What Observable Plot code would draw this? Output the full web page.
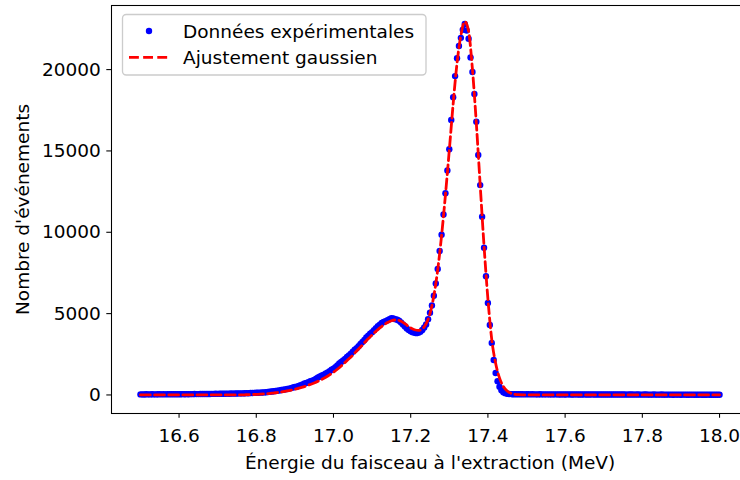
<!DOCTYPE html>
<html><head><meta charset="utf-8">
<script src="https://cdn.jsdelivr.net/npm/d3@7"></script>
<script src="https://cdn.jsdelivr.net/npm/@observablehq/plot@0.6"></script>
<style>
html,body{margin:0;padding:0;background:#fff;overflow:hidden;}
#chart{position:relative;width:740px;height:480px;overflow:hidden;}
</style></head><body><div id="chart"></div>
<script>
// Experimental data: energy grid start/step (MeV) and counts
const dataStart = 16.5, dataStep = 0.005;
const counts = [
  35, 38, 32, 40, 36, 33, 41, 37, 35, 39,
  42, 36, 40, 38, 44, 41, 39, 45, 43, 40,
  47, 44, 48, 46, 50, 47, 52, 49, 55, 53,
  51, 58, 56, 60, 57, 63, 61, 66, 64, 70,
  68,
  72, 70, 76, 74, 80, 78, 85, 83, 90, 88,
  95, 99, 97, 105, 110, 108, 118, 122, 125, 132,
  138, 145, 150, 158, 170, 180, 195, 210, 225, 240,
  262, 280, 300, 318, 345, 365, 392, 420, 455, 488,
  510, 560, 600, 650, 700, 740, 790, 840, 880, 930,
  1000, 1080, 1130, 1200, 1250, 1320, 1380, 1460, 1550, 1620,
  1700, 1820, 1930, 2030, 2120, 2220, 2330, 2430, 2540, 2660,
  2780, 2870, 3000, 3130, 3260, 3380, 3540, 3640, 3760, 3860,
  3980, 4110, 4220, 4320, 4420, 4480, 4540, 4590, 4650, 4720,
  4700, 4660, 4620, 4560, 4460, 4330, 4210, 4080, 3990, 3920,
  3860, 3820, 3800, 3830, 3880, 3990, 4150, 4330, 4660, 5050,
  5500, 6100, 6850, 7750, 8850, 9850, 11100, 12400, 13800, 15100,
  16900, 18300, 19600, 20700, 21450, 21950, 22450, 22800, 22400, 21900,
  20750, 19850, 18500, 16800, 14750, 12900, 10950, 9050, 7300, 5650,
  4300, 3200, 2150, 1350, 850, 500, 290, 170, 110, 75,
  55,
  48, 44, 46, 41, 43, 40, 42, 38, 41, 39,
  37, 40, 36, 38, 35, 39, 37, 34, 36, 38,
  35, 33, 36, 34, 37, 32, 35, 33, 31, 34,
  36, 32, 30, 33, 35, 31, 29, 32, 34, 30,
  28, 31, 33, 29, 27, 30, 32, 28, 26, 29,
  31, 27, 25, 28, 30, 26, 24, 27, 29, 25,
  23, 26, 28, 24, 22, 25, 27, 23, 21, 24,
  26, 22, 20, 23, 25, 21, 19, 22, 24, 20,
  18, 21, 23, 19, 17, 20, 22, 18, 16, 19,
  21, 17, 15, 18, 20, 16, 14, 17, 19, 15,
  13, 16, 18, 14, 12, 15, 17, 13, 12
];

// Gaussian fit curve: energy grid start/step (MeV) and fitted counts
const fitStart = 16.5, fitStep = 0.01;
const fitValues = [
  0, 0, 0, 0, 0, 0, 0, 0, 0, 0,
  0, 0, 0, 0, 0, 0, 0, 0, 0, 0,
  0, 0, 0,
  1, 2, 4, 7, 11, 16, 24, 35, 48, 65,
  85, 110, 135, 165, 200, 245, 295, 350, 415, 480,
  560, 645, 740, 845, 960, 1090, 1235, 1400, 1580, 1780,
  2000, 2220, 2450, 2700, 2950, 3200, 3450, 3690, 3910, 4120,
  4300, 4450, 4560, 4610, 4580, 4460, 4290, 4120, 4010, 3970,
  4060, 4380, 5000, 6100, 7700, 9800, 12300, 15050, 17900, 20400,
  22100, 22950, 22350, 20000, 16700, 12900, 9150, 5900, 3400, 1950,
  1050, 520, 240, 100, 40, 15, 5, 1,
  0, 0, 0, 0, 0, 0, 0, 0, 0, 0,
  0, 0, 0, 0, 0, 0, 0, 0, 0, 0,
  0, 0, 0, 0, 0, 0, 0, 0, 0, 0,
  0, 0, 0, 0, 0, 0, 0, 0, 0, 0,
  0, 0, 0, 0, 0, 0, 0, 0, 0, 0
];

const xTicks = [16.6, 16.8, 17.0, 17.2, 17.4, 17.6, 17.8, 18.0];
const yTicks = [0, 5000, 10000, 15000, 20000];
const seriesLabels = ["Données expérimentales", "Ajustement gaussien"];
const xLabel = "Énergie du faisceau à l'extraction (MeV)";
const yLabel = "Nombre d'événements";

const points = counts.map((v, i) => ({x: +(dataStart + i * dataStep).toFixed(3), y: v}));
const fit = fitValues.map((v, i) => ({x: +(fitStart + i * fitStep).toFixed(2), y: v}));

const FONT = "'DejaVu Sans', sans-serif";
const dash = "9.87,4.27";

const plot = Plot.plot({
  width: 740,
  height: 480,
  marginLeft: 111,
  marginRight: -8,
  marginTop: 5,
  marginBottom: 67,
  style: {fontFamily: FONT, fontSize: "18.5px", color: "#000", background: "#fff"},
  x: {domain: [16.425, 18.075]},
  y: {domain: [-1140, 23940]},
  marks: [
    Plot.dot(points, {x: "x", y: "y", r: 3.2, fill: "#0000ff", stroke: "none"}),
    Plot.line(fit, {x: "x", y: "y", stroke: "#ff0000", strokeWidth: 2.8, strokeDasharray: dash, curve: "monotone-x"}),
    Plot.frame({stroke: "#000", strokeWidth: 1.07}),
    Plot.axisX({ticks: xTicks, tickFormat: d => d.toFixed(1), tickSize: 4.7, tickPadding: 11, strokeWidth: 1.07, label: null, fontSize: 18.5}),
    Plot.axisY({ticks: yTicks, tickFormat: d => String(d), tickSize: 4.7, tickPadding: 6, strokeWidth: 1.07, label: null, fontSize: 18.5}),
    Plot.text([xLabel], {frameAnchor: "bottom", dy: 50, text: d => d, fontSize: 18.5, lineAnchor: "middle", textAnchor: "middle"}),
    Plot.text([yLabel], {frameAnchor: "left", dx: -88, rotate: -90, text: d => d, fontSize: 18.5, lineAnchor: "middle", textAnchor: "middle"})
  ]
});

document.getElementById("chart").appendChild(plot);

// Legend (matplotlib style, upper left)
const svg = d3.select(plot);
const lg = svg.append("g").attr("font-family", FONT).attr("font-size", "18.5px").attr("text-anchor", "start");
lg.append("rect").attr("x", 122.5).attr("y", 14.5).attr("width", 303.5).attr("height", 60.5)
  .attr("rx", 3.7).attr("fill", "#fff").attr("fill-opacity", 0.8)
  .attr("stroke", "#cccccc").attr("stroke-width", 1.33);
lg.append("circle").attr("cx", 149).attr("cy", 31).attr("r", 3.2).attr("fill", "#0000ff");
lg.append("line").attr("x1", 129).attr("x2", 168).attr("y1", 57.3).attr("y2", 57.3)
  .attr("stroke", "#ff0000").attr("stroke-width", 2.8).attr("stroke-dasharray", dash);
lg.append("text").attr("x", 183).attr("y", 37.7).attr("fill", "#000").attr("text-anchor", "start").text(seriesLabels[0]);
lg.append("text").attr("x", 183).attr("y", 63.7).attr("fill", "#000").attr("text-anchor", "start").text(seriesLabels[1]);
</script>
</body></html>
